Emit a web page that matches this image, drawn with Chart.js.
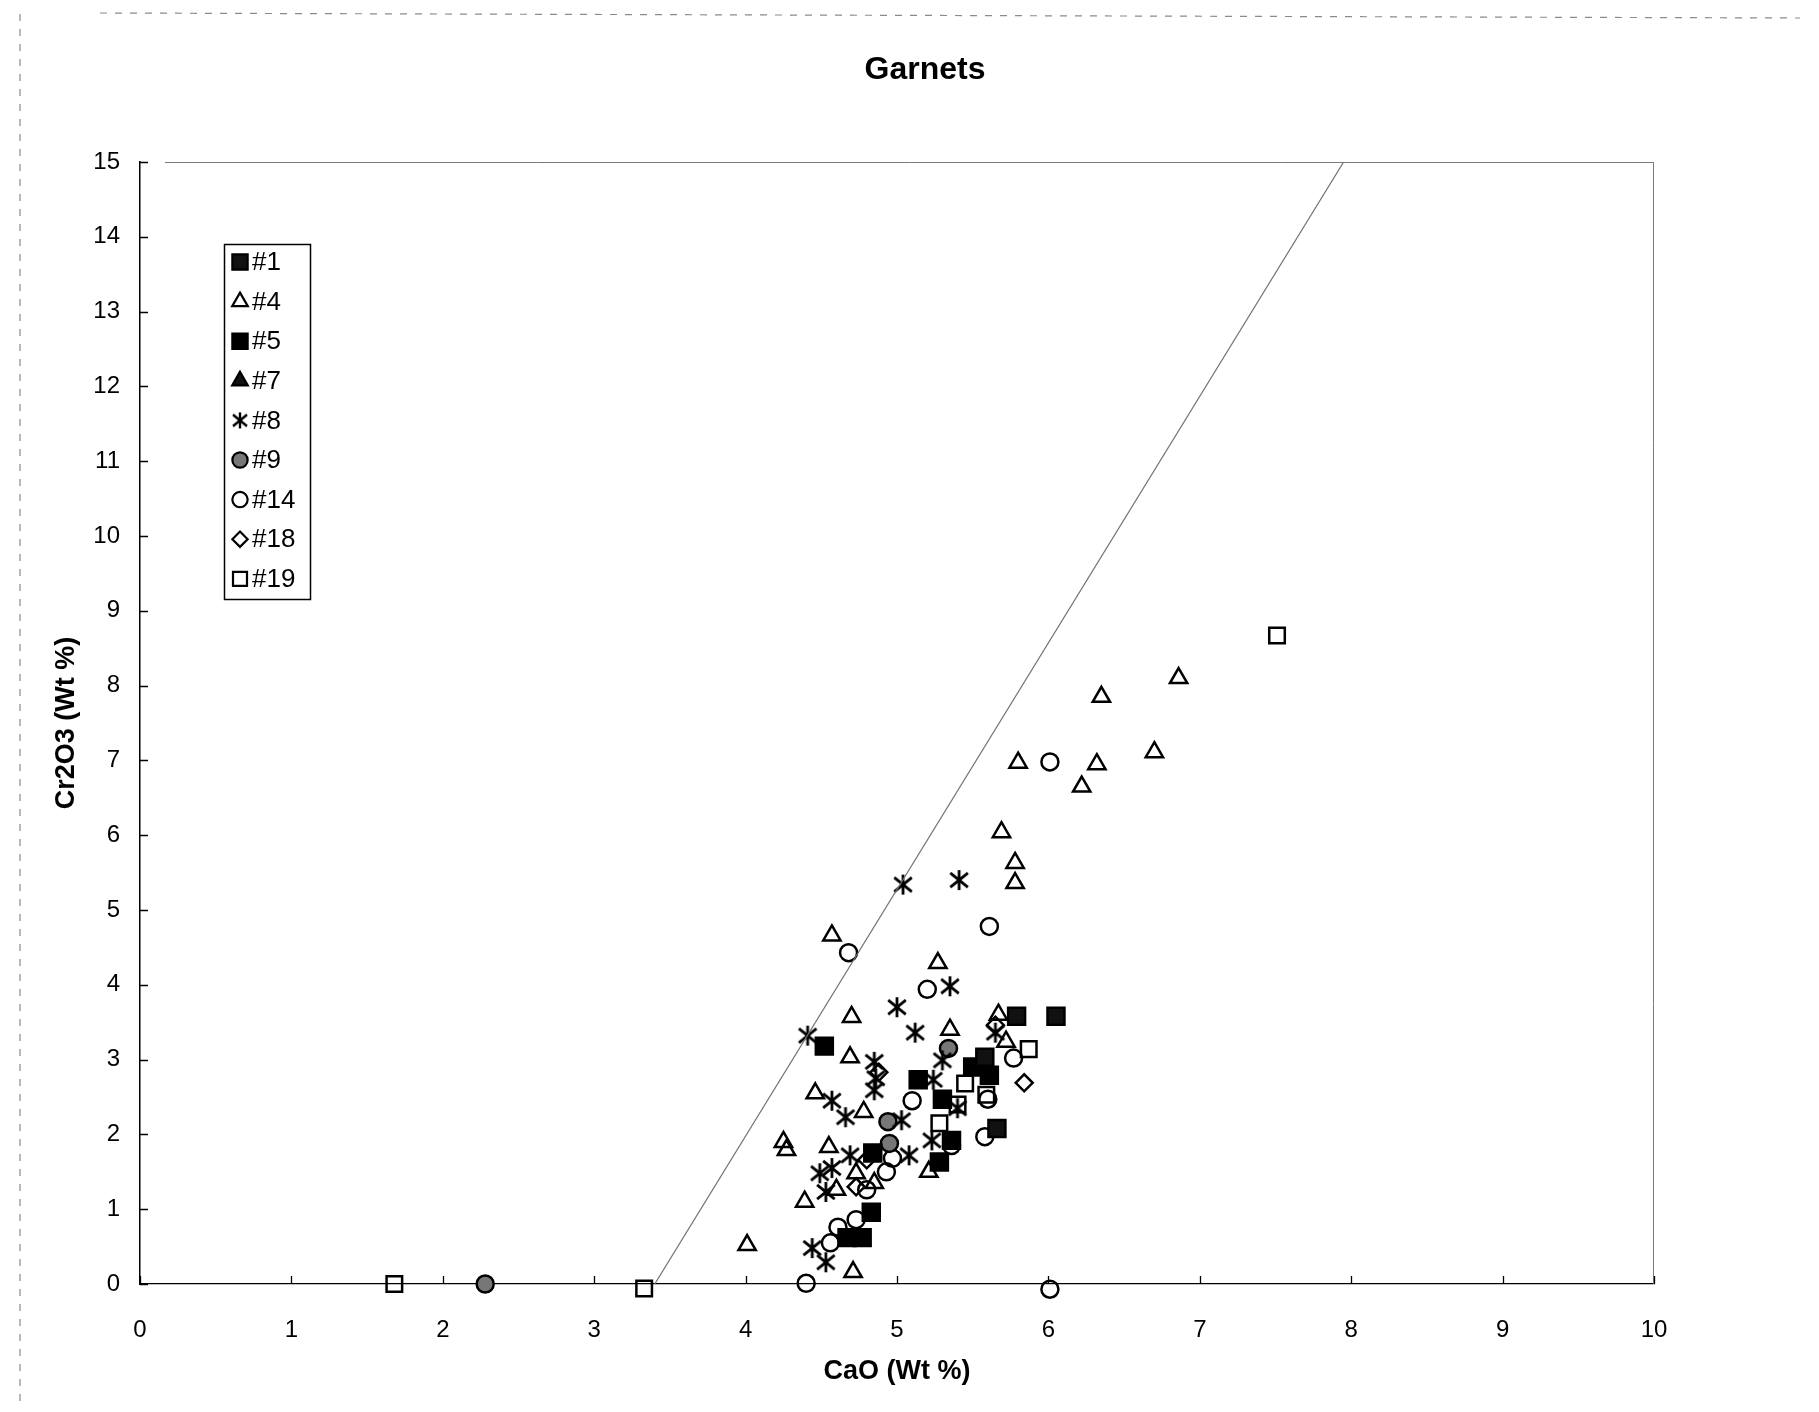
<!DOCTYPE html>
<html>
<head>
<meta charset="utf-8">
<script src="https://cdn.jsdelivr.net/npm/chart.js@4.4.1/dist/chart.umd.min.js"></script>
<style>
html,body{margin:0;padding:0;background:#fff;}
#wrap{width:1819px;height:1412px;position:relative;}
</style>
</head>
<body>
<div id="wrap"><canvas id="c" width="1819" height="1412"></canvas></div>
<script>
// ---------------- DATA ----------------
const chartTitle = 'Garnets';
const xTitle = 'CaO (Wt %)';
const yTitle = 'Cr2O3 (Wt %)';
const seriesNames = ['#1', '#4', '#5', '#7', '#8', '#9', '#14', '#18', '#19'];

// [CaO, Cr2O3] pairs
const s1 = [[5.79,3.58],[6.05,3.58],[5.66,2.08],[5.58,3.03]];
const s4 = [[4.01,0.52],[4.25,1.90],[4.27,1.79],[4.39,1.10],[4.46,2.55],[4.57,4.66],[4.55,1.83],
            [4.60,1.26],[4.71,0.16],[4.70,3.57],[4.69,3.03],[4.78,2.30],[4.73,1.48],[4.85,1.35],
            [5.21,1.50],[5.27,4.29],[5.35,3.40],[5.67,3.60],[5.72,3.24],[5.69,6.04],[5.78,5.63],
            [5.78,5.36],[5.80,6.97],[6.22,6.65],[6.32,6.95],[6.35,7.85],[6.70,7.11],[6.86,8.10]];
const s5 = [[4.52,3.18],[5.14,2.73],[5.61,2.79],[5.50,2.90],[5.30,2.47],[5.36,1.92],[5.28,1.63],
            [4.83,0.96],[4.67,0.62],[4.77,0.62],[4.84,1.75]];
const s7 = [];
const s8 = [[4.41,3.32],[5.04,5.34],[5.41,5.40],[5.00,3.70],[5.35,3.98],[5.12,3.36],[4.85,2.97],
            [4.86,2.75],[4.85,2.59],[4.57,2.45],[4.66,2.23],[5.03,2.19],[4.69,1.72],[5.08,1.72],
            [4.57,1.55],[4.49,1.48],[4.53,1.23],[4.44,0.48],[4.53,0.29],[5.30,2.99],[5.24,2.73],
            [5.65,3.36],[5.40,2.35],[5.23,1.92]];
const s9 = [[2.28,0.00],[4.94,2.17],[4.95,1.88],[5.34,3.15]];
const s14 = [[4.40,0.01],[6.01,-0.07],[4.68,4.43],[5.61,4.78],[6.01,6.98],[5.20,3.94],[5.10,2.45],
             [4.93,1.50],[4.61,0.76],[4.73,0.86],[4.56,0.55],[4.80,1.26],[4.97,1.68],[5.77,3.02],
             [5.60,2.47],[5.58,1.97],[5.36,1.85]];
const s18 = [[5.84,2.69],[4.88,2.83],[4.80,1.66],[4.73,1.30],[5.65,3.46]];
const s19 = [[1.68,0.00],[3.33,-0.06],[7.51,8.67],[5.87,3.14],[5.45,2.68],[5.28,2.15],[5.40,2.40],[5.59,2.53]];

// boundary line drawn across the plot
const boundaryLine = [[3.40,0],[7.95,15]];

const xMin = 0, xMax = 10, xStep = 1;
const yMin = 0, yMax = 15, yStep = 1;

// ---------------- STYLE ----------------
const FONT = "'Liberation Sans', Arial, Helvetica, sans-serif";
Chart.defaults.font.family = FONT;
Chart.defaults.color = '#000';

function makeAsterisk(size, lw) {
  const c = document.createElement('canvas');
  c.width = size; c.height = size;
  const g = c.getContext('2d');
  const m = size / 2, r = size / 2 - 1;
  g.strokeStyle = '#000';
  g.lineWidth = lw;
  g.beginPath();
  g.moveTo(m, m - r); g.lineTo(m, m + r);
  g.moveTo(m - 0.88 * r, m - 0.72 * r); g.lineTo(m + 0.88 * r, m + 0.72 * r);
  g.moveTo(m + 0.88 * r, m - 0.72 * r); g.lineTo(m - 0.88 * r, m + 0.72 * r);
  g.stroke();
  return c;
}
const asterisk = makeAsterisk(22, 2.8);
const legendAsterisk = makeAsterisk(18, 2.4);

const toPts = arr => arr.map(p => ({x: p[0], y: p[1]}));
const NONE = 'rgba(0,0,0,0)';

const styles = [
  {pointStyle: 'rect', pointRadius: 12, backgroundColor: '#111', borderColor: '#000'},
  {pointStyle: 'triangle', pointRadius: 10, backgroundColor: NONE, borderColor: '#000'},
  {pointStyle: 'rect', pointRadius: 12, backgroundColor: '#000', borderColor: '#000'},
  {pointStyle: 'triangle', pointRadius: 10, backgroundColor: '#111', borderColor: '#000'},
  {pointStyle: asterisk, pointRadius: 11, backgroundColor: NONE, borderColor: '#000'},
  {pointStyle: 'circle', pointRadius: 8.5, backgroundColor: '#777', borderColor: '#000'},
  {pointStyle: 'circle', pointRadius: 8.5, backgroundColor: NONE, borderColor: '#000'},
  {pointStyle: 'rectRot', pointRadius: 8.5, backgroundColor: NONE, borderColor: '#000'},
  {pointStyle: 'rect', pointRadius: 11, backgroundColor: NONE, borderColor: '#000'}
];
const seriesData = [s1, s4, s5, s7, s8, s9, s14, s18, s19];

const datasets = seriesNames.map((name, i) => Object.assign({
  label: name,
  data: toPts(seriesData[i]),
  borderWidth: 2.5,
  pointHoverRadius: styles[i].pointRadius,
  showLine: false,
  clip: false
}, styles[i]));

datasets.unshift({
  label: 'boundary',
  data: toPts(boundaryLine),
  showLine: true,
  borderColor: '#707070',
  borderWidth: 1.2,
  pointRadius: 0,
  pointHoverRadius: 0,
  hideInLegend: true
});

// ---------------- PLUGINS ----------------
const framePlugin = {
  id: 'frame',
  beforeDraw(chart) {
    const ctx = chart.ctx;
    ctx.save();
    ctx.fillStyle = '#fff';
    ctx.fillRect(0, 0, chart.width, chart.height);
    // outer dashed frame (top and left)
    ctx.strokeStyle = '#8a8a8a';
    ctx.lineWidth = 1.2;
    ctx.setLineDash([7, 8]);
    ctx.beginPath();
    ctx.moveTo(100, 13); ctx.lineTo(1800, 18);
    ctx.moveTo(20, 14); ctx.lineTo(20, 1405);
    ctx.stroke();
    ctx.restore();
  },
  afterDraw(chart) {
    const {ctx, chartArea: a} = chart;
    ctx.save();
    // plot-area border: top and right
    ctx.strokeStyle = '#7a7a7a';
    ctx.lineWidth = 1;
    ctx.beginPath();
    ctx.moveTo(a.left + 25, a.top + 0.5); ctx.lineTo(a.right, a.top + 0.5);
    ctx.moveTo(a.right - 0.5, a.top); ctx.lineTo(a.right - 0.5, a.bottom);
    ctx.stroke();
    // inward tick marks
    ctx.strokeStyle = '#000';
    ctx.lineWidth = 1.3;
    const xs = chart.scales.x, ys = chart.scales.y;
    ctx.beginPath();
    xs.ticks.forEach(t => {
      const px = Math.round(xs.getPixelForValue(t.value)) + 0.5;
      ctx.moveTo(px, a.bottom); ctx.lineTo(px, a.bottom - 8);
    });
    ys.ticks.forEach(t => {
      const py = Math.round(ys.getPixelForValue(t.value)) + 0.5;
      ctx.moveTo(a.left, py); ctx.lineTo(a.left + 8, py);
    });
    ctx.stroke();
    ctx.restore();
  }
};

const boxLegendPlugin = {
  id: 'boxLegend',
  afterDraw(chart) {
    const ctx = chart.ctx;
    const box = {x: 224, y: 244, w: 86, h: 355};
    const first = 262, step = 39.6, markX = 240, textX = 252;
    ctx.save();
    ctx.fillStyle = '#fff';
    ctx.fillRect(box.x, box.y, box.w, box.h);
    ctx.strokeStyle = '#000';
    ctx.lineWidth = 1.5;
    ctx.strokeRect(box.x + 0.5, box.y + 0.5, box.w, box.h);
    let row = 0;
    chart.data.datasets.forEach(ds => {
      if (ds.hideInLegend) return;
      const y = first + row * step;
      ctx.save();
      ctx.fillStyle = ds.backgroundColor;
      ctx.strokeStyle = ds.borderColor;
      ctx.lineWidth = 2.2;
      const isStr = typeof ds.pointStyle === 'string';
      const r = isStr ? ds.pointRadius * 0.9 : ds.pointRadius;
      const ps = isStr ? ds.pointStyle : legendAsterisk;
      Chart.helpers.drawPoint(ctx, {pointStyle: ps, radius: r, borderWidth: 2.2, rotation: 0}, markX, y);
      ctx.restore();
      ctx.fillStyle = '#000';
      ctx.font = '26px ' + FONT;
      ctx.textAlign = 'left';
      ctx.textBaseline = 'middle';
      ctx.fillText(ds.label, textX, y + 1);
      row++;
    });
    ctx.restore();
  }
};

// ---------------- CHART ----------------
new Chart(document.getElementById('c'), {
  type: 'scatter',
  data: {datasets},
  options: {
    responsive: false,
    animation: false,
    events: [],
    layout: {padding: {left: 31, right: 0, top: 0, bottom: 0}},
    plugins: {
      legend: {display: false},
      tooltip: {enabled: false},
      title: {
        display: true,
        text: chartTitle,
        color: '#000',
        font: {size: 32, weight: 'bold', family: FONT},
        padding: {top: 51, bottom: 72.6}
      }
    },
    scales: {
      x: {
        type: 'linear',
        min: xMin, max: xMax,
        afterFit(scale) { scale.height = 128; },
        ticks: {stepSize: xStep, color: '#000', font: {size: 24}, padding: 32},
        grid: {display: false, drawTicks: false},
        border: {display: true, color: '#000', width: 1.3},
        title: {display: true, text: xTitle, color: '#000',
                font: {size: 27, weight: 'bold'}, padding: {top: 0, bottom: 24}}
      },
      y: {
        type: 'linear',
        min: yMin, max: yMax,
        afterFit(scale) { scale.width = 109; },
        ticks: {stepSize: yStep, color: '#000', font: {size: 24}, padding: 20},
        grid: {display: false, drawTicks: false},
        border: {display: true, color: '#000', width: 1.5},
        title: {display: true, text: yTitle, color: '#000',
                font: {size: 27, weight: 'bold'}, padding: {top: 19, bottom: 0}}
      },
      yRight: {
        type: 'linear',
        position: 'right',
        display: true,
        afterFit(scale) { scale.width = 165; },
        ticks: {display: false},
        grid: {display: false, drawTicks: false},
        border: {display: false},
        title: {display: false}
      }
    }
  },
  plugins: [framePlugin, boxLegendPlugin]
});
</script>
</body>
</html>
